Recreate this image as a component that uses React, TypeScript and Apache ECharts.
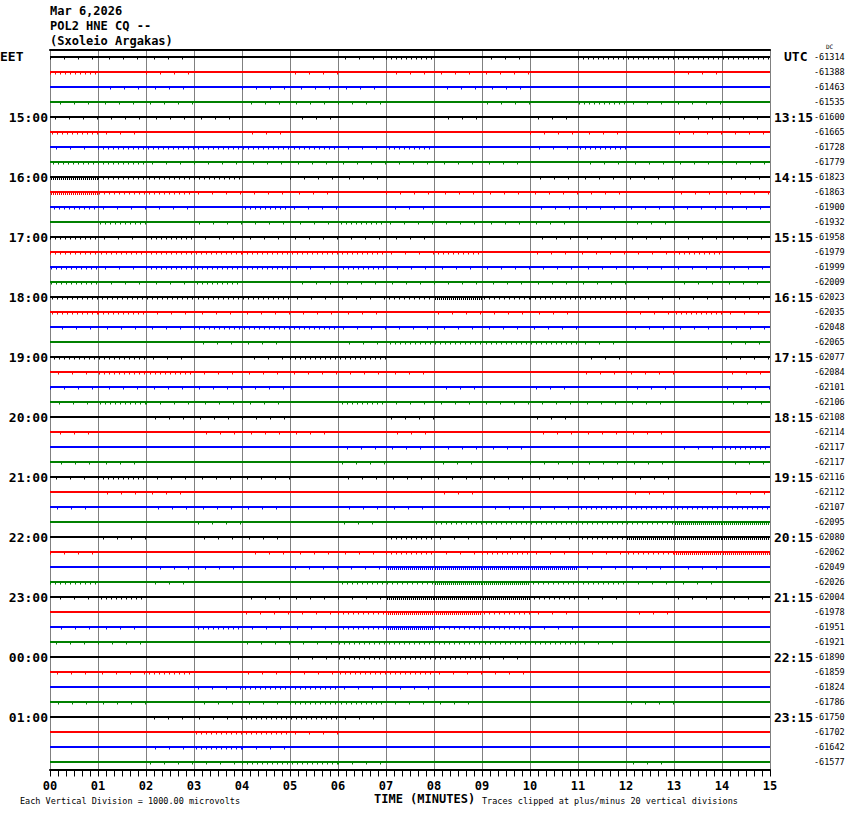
import React, { useEffect, useRef } from "react";
import * as echarts from "echarts";

// ---- data ----
const minuteTicks = ["00","01","02","03","04","05","06","07","08","09","10","11","12","13","14","15"];
const traceColors = ["#000000", "#ff0000", "#0000ff", "#008000"];
const eetHours = ["15:00","16:00","17:00","18:00","19:00","20:00","21:00","22:00","23:00","00:00","01:00"];
const utcHours = ["13:15","14:15","15:15","16:15","17:15","18:15","19:15","20:15","21:15","22:15","23:15"];
const dcValues = [
  -61314, -61388, -61463, -61535, -61600, -61665, -61728, -61779,
  -61823, -61863, -61900, -61932, -61958, -61979, -61999, -62009,
  -62023, -62035, -62048, -62065, -62077, -62084, -62101, -62106,
  -62108, -62114, -62117, -62117, -62116, -62112, -62107, -62095,
  -62080, -62062, -62049, -62026, -62004, -61978, -61951, -61921,
  -61890, -61859, -61824, -61786, -61750, -61702, -61642, -61577,
];
// noise activity per minute for each trace row (0 = quiet .. 3 = dense)
const rowLevels = [
  "111000120102222", "201001011100010", "011011101100000", "111011100102110",
  "111101001010011", "210010000011011", "122222120012000", "221111111101111",
  "322201100011101", "322111011111011", "211021010011111", "020111211110100",
  "212111110011111", "222222212011120", "212221211111111", "211201111111011",
  "222221123222111", "221111101110121", "111222111110111", "000110122221001",
  "221012200001001", "122111110001101", "111110001010101", "121110211111101",
  "001110010010000", "100111010011100", "000000111100012", "110000101011101",
  "121110111111100", "011000001000101", "101110110112222", "000100102222233",
  "010110021112333", "100011121211233", "001101133331110", "201000223322110",
  "120011133321011", "000011233210100", "110211232210000", "110011222221000",
  "000001222100000", "112011221100000", "000122110000000", "110112211000100",
  "001122100000000", "000221000000000", "001210000000000", "001122100000100",
];

const MONO = "'DejaVu Sans Mono', 'Liberation Mono', monospace";

export default function App() {
  const ref = useRef<HTMLDivElement>(null);
  useEffect(() => {
    if (!ref.current) return;
    const chart = echarts.init(ref.current, null, { renderer: "svg" });
    const rows = dcValues.map((_, i) => String(i));
    const baseData = rows.map((_, i) => [0, i]);
    const noiseData: number[][] = [];
    rowLevels.forEach((s, r) => {
      for (let m = 0; m < s.length; m++) {
        const lv = Number(s[m]);
        if (lv > 0) noiseData.push([m, r, lv]);
      }
    });

    const hourFmt = (list: string[]) => (_v: string, idx: number) =>
      idx > 0 && idx % 4 === 0 ? list[idx / 4 - 1] || "" : "";

    const catAxisBase = {
      type: "category" as const,
      data: rows,
      inverse: true,
      boundaryGap: true,
      axisLine: { show: false },
      axisTick: { show: false },
      splitLine: { show: false },
    };

    chart.setOption({
      animation: false,
      backgroundColor: "#ffffff",
      grid: { left: 50, top: 49.5, width: 720, height: 720, containLabel: false },
      xAxis: [
        {
          type: "value",
          min: 0,
          max: 15,
          interval: 1,
          position: "bottom",
          axisLine: { show: true, lineStyle: { color: "#000", width: 2 } },
          axisTick: { show: true, length: 7, lineStyle: { color: "#000", width: 1 } },
          minorTick: { show: true, splitNumber: 6, length: 7, lineStyle: { color: "#000", width: 1 } },
          splitLine: { show: true, lineStyle: { color: "#808080", width: 1 } },
          axisLabel: {
            formatter: (v: number) => minuteTicks[Math.round(v)],
            fontFamily: MONO,
            fontWeight: "bold",
            fontSize: 12,
            color: "#000",
            margin: 10,
          },
        },
        {
          type: "value",
          min: 0,
          max: 15,
          position: "top",
          axisLine: { show: true, lineStyle: { color: "#000", width: 2 } },
          axisTick: { show: false },
          axisLabel: { show: false },
          splitLine: { show: false },
        },
      ],
      yAxis: [
        {
          ...catAxisBase,
          position: "left",
          axisLabel: {
            interval: 0,
            formatter: hourFmt(eetHours),
            fontFamily: MONO,
            fontWeight: "bold",
            fontSize: 13,
            color: "#000",
            margin: 2,
          },
        },
        {
          ...catAxisBase,
          position: "right",
          axisLabel: {
            interval: 0,
            formatter: hourFmt(utcHours),
            fontFamily: MONO,
            fontWeight: "bold",
            fontSize: 13,
            color: "#000",
            margin: 4,
          },
        },
        {
          ...catAxisBase,
          position: "right",
          axisLabel: {
            interval: 0,
            formatter: (_v: string, idx: number) => String(dcValues[idx]),
            fontFamily: MONO,
            fontSize: 8.5,
            color: "#000",
            margin: 44,
          },
        },
      ],
      series: [
        {
          type: "custom",
          name: "traces",
          xAxisIndex: 0,
          yAxisIndex: 0,
          data: baseData,
          encode: { x: 0, y: 1 },
          renderItem: (params: any, api: any) => {
            const r = api.value(1);
            const p0 = api.coord([0, r]);
            const p1 = api.coord([15, r]);
            return {
              type: "line",
              shape: { x1: p0[0], y1: p0[1], x2: p1[0], y2: p1[1] },
              style: { stroke: traceColors[r % 4], lineWidth: 2 },
            };
          },
        },
        {
          type: "custom",
          name: "noise",
          xAxisIndex: 0,
          yAxisIndex: 0,
          data: noiseData,
          encode: { x: 0, y: 1 },
          renderItem: (params: any, api: any) => {
            const m = api.value(0);
            const r = api.value(1);
            const lv = api.value(2);
            const p0 = api.coord([m, r]);
            const p1 = api.coord([m + 1, r]);
            const dash = lv >= 3 ? [1, 1] : lv === 2 ? [1, 4] : [1, 13];
            return {
              type: "line",
              shape: { x1: p0[0], y1: p0[1] + 1, x2: p1[0], y2: p1[1] + 1 },
              style: {
                stroke: traceColors[r % 4],
                lineWidth: lv >= 3 ? 4 : 3,
                lineDash: dash,
                lineDashOffset: (r * 5 + m * 3) % 11,
              },
            };
          },
        },
      ],
      graphic: [
        { type: "text", left: 50, top: 5, style: { text: "Mar 6,2026", font: `bold 12px ${MONO}`, fill: "#000" } },
        { type: "text", left: 50, top: 20, style: { text: "POL2 HNE CQ --", font: `bold 12px ${MONO}`, fill: "#000" } },
        { type: "text", left: 50, top: 35, style: { text: "(Sxoleio Argakas)", font: `bold 12px ${MONO}`, fill: "#000" } },
        { type: "text", left: 0, top: 50, style: { text: "EET", font: `bold 13px ${MONO}`, fill: "#000" } },
        { type: "text", left: 784, top: 50, style: { text: "UTC", font: `bold 13px ${MONO}`, fill: "#000" } },
        { type: "text", left: 826, top: 43, style: { text: "DC", font: `6px ${MONO}`, fill: "#000" } },
        { type: "text", left: 20, top: 796, style: { text: "Each Vertical Division = 1000.00 microvolts", font: `8.5px ${MONO}`, fill: "#000" } },
        { type: "text", left: 374, top: 793, style: { text: "TIME (MINUTES)", font: `bold 12px ${MONO}`, fill: "#000" } },
        { type: "text", left: 482, top: 796, style: { text: "Traces clipped at plus/minus 20 vertical divisions", font: `8.5px ${MONO}`, fill: "#000" } },
      ],
    });
    return () => chart.dispose();
  }, []);
  return (
    <div
      ref={ref}
      style={{ position: "absolute", left: 0, top: 0, width: 850, height: 814, background: "#fff" }}
    />
  );
}
